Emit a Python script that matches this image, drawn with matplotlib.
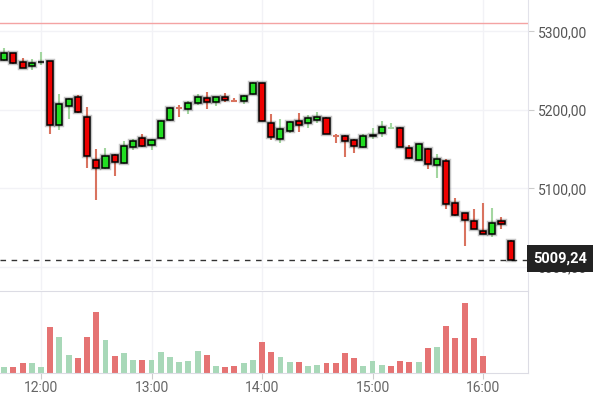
import numpy as np
import pandas as pd
import matplotlib
matplotlib.use("Agg")
import matplotlib.pyplot as plt
import matplotlib.patheffects as pe
import matplotlib.transforms as mtrans

plt.rcParams['font.family'] = ['Roboto', 'DejaVu Sans']

# 5-minute candles, starting 11:40
opens = [5264, 5272, 5261, 5256, 5260.5, 5262, 5181, 5205, 5217, 5191,
         5136, 5126, 5143, 5132, 5153, 5164, 5156, 5164, 5187, 5202.2,
         5201, 5209, 5215, 5210, 5216.5, 5212.2, 5211, 5220, 5234, 5183,
         5163.5, 5173, 5186.5, 5183, 5187, 5189.5, 5167.2, 5167, 5162, 5152.5,
         5167.5, 5170.5, 5177, 5177, 5151, 5136.5, 5150, 5130, 5135.5, 5081,
         5068.5, 5059, 5046, 5042, 5058.5, 5033]
highs = [5279, 5272, 5266, 5265, 5274, 5263, 5220, 5215, 5219, 5204,
         5150, 5151, 5144, 5160, 5163, 5169, 5163, 5187, 5204, 5206,
         5212, 5220, 5223, 5217, 5222, 5215, 5219, 5236, 5235, 5194.5,
         5188, 5186, 5196, 5193, 5198, 5191, 5170, 5168, 5163, 5170,
         5177, 5186.5, 5183, 5178, 5155.5, 5158, 5151, 5144, 5137, 5088,
         5069, 5074, 5081, 5075.5, 5064, 5034]
lows = [5263, 5259, 5253, 5251, 5257, 5170, 5174.5, 5189, 5196, 5126,
        5085, 5125, 5116, 5131, 5149, 5153, 5149, 5163, 5186, 5191,
        5195, 5206, 5201, 5205, 5210.5, 5210, 5207, 5219, 5186, 5162,
        5158, 5171, 5172, 5177, 5183, 5169, 5158, 5140.5, 5145.5, 5152,
        5163, 5166, 5177, 5152.5, 5138, 5135, 5124.5, 5114, 5074, 5065,
        5027, 5048, 5042, 5038.5, 5048, 5009.24]
closes = [5272, 5260, 5254, 5259.5, 5261.5, 5181, 5208, 5214, 5197, 5141,
          5126, 5142, 5134, 5154, 5160.5, 5154, 5162, 5186, 5202, 5202,
          5208.5, 5217, 5210, 5216, 5213, 5212, 5218, 5234, 5186, 5165,
          5175.5, 5184.5, 5181, 5189.5, 5191.5, 5169, 5167, 5160.5, 5154, 5167,
          5168.5, 5178, 5177.2, 5152.5, 5138.5, 5156.5, 5131, 5137, 5080, 5066,
          5060, 5049, 5042.5, 5055.5, 5055, 5009.24]

volumes = [17, 17, 29, 29, 17, 138, 108, 55, 44, 108,
           183, 100, 52, 59, 40, 40, 40, 63, 48, 33,
           37, 67, 55, 21, 17, 21, 29, 40, 93, 63,
           48, 33, 33, 22, 25, 29, 29, 59, 44, 22,
           37, 25, 22, 37, 33, 33, 74, 78, 142, 104,
           210, 104, 52]
vol_dir = list("grrggrggrr" "rgrggrgggg" "ggrgrrggrr" "ggrggrrrrg" "ggrrrgrgrr" "rrr")

price_ticks = [5000, 5100, 5200, 5300]
price_labels = ["5000,00", "5100,00", "5200,00", "5300,00"]
time_labels = ["12:00", "13:00", "14:00", "15:00", "16:00"]
last_price = 5009.24
high_line = 5310.8

times = pd.date_range("2024-01-02 11:40", periods=len(opens), freq="5min")
t = np.array(times.hour * 60 + times.minute, dtype=float)
hour_ticks = [h * 60 for h in range(12, 17)]

o = np.array(opens); h = np.array(highs); l = np.array(lows); c = np.array(closes)
up = c >= o

fig = plt.figure(figsize=(6.06, 3.96), dpi=100)
ax1 = fig.add_axes([0, (396 - 290) / 396, 528 / 606, 290 / 396])
ax2 = fig.add_axes([0, (396 - 373) / 396, 528 / 606, 82 / 396])

xmin, xmax = 697.74, 984.4
for ax in (ax1, ax2):
    ax.set_xlim(xmin, xmax)
    for x in hour_ticks:
        ax.axvline(x, color='#f2f2f6', lw=1, zorder=0)

# price panel
ax1.set_ylim(4970.7, 5340.1)
for p in price_ticks:
    ax1.axhline(p, color='#f2f2f6', lw=1, zorder=0)
ax1.axhline(high_line, color='#f4a3a3', lw=1, zorder=1)
ax1.axhline(last_price, color='#333333', lw=1, dashes=(4, 4), zorder=1)

wick_cols = np.where(up, '#a3d6a0', '#d9735f')
ax1.vlines(t, l, h, colors=wick_cols, lw=1.5, zorder=2)

body_w = 3.3
big = np.abs(c - o) >= 0.5
bars = ax1.bar(t[big], np.abs(c - o)[big], bottom=np.minimum(o, c)[big], width=body_w,
               color=np.where(up, '#22dd22', '#ee0000')[big], edgecolor='black',
               linewidth=1.1, zorder=3)
for b in bars:
    b.set_path_effects([pe.withStroke(linewidth=3.2, foreground=(0, 0, 0, 0.22))])
small = ~big
ax1.hlines(c[small], t[small] - body_w / 2, t[small] + body_w / 2,
           colors=wick_cols[small], lw=1.5, zorder=3)

ax1.yaxis.tick_right()
ax1.set_yticks(price_ticks)
ax1.set_yticklabels(price_labels)
ax1.tick_params(axis='y', length=4, color='#cccccc', labelcolor='#555555',
                labelsize=10, pad=3)
ax1.set_xticks([])
for s in ('top', 'left', 'bottom'):
    ax1.spines[s].set_visible(False)
ax1.spines['right'].set_color('#e2e2ea')

trans = mtrans.blended_transform_factory(ax1.transAxes, ax1.transData)
ax1.text(1.009, last_price + 1.5, "5009,24", transform=trans, ha='left', va='center',
         color='white', fontsize=10.5, fontweight='bold', zorder=10, clip_on=False,
         bbox=dict(boxstyle='square,pad=0.42', fc='#222222', ec='none'))

# volume panel
vcols = ['#a8d8b8' if d == 'g' else '#e57373' for d in vol_dir]
ax2.bar(t[:len(volumes)], volumes, width=3.2, color=vcols, zorder=2)
ax2.set_ylim(0, 247)
ax2.set_yticks([])
ax2.set_xticks(hour_ticks)
ax2.set_xticklabels(time_labels)
ax2.tick_params(axis='x', length=4, color='#cccccc', labelcolor='#666666',
                labelsize=10, pad=2)
ax2.spines['left'].set_visible(False)
for s in ('top', 'bottom', 'right'):
    ax2.spines[s].set_color('#dcdce4')

fig.savefig("out.png", dpi=100)
